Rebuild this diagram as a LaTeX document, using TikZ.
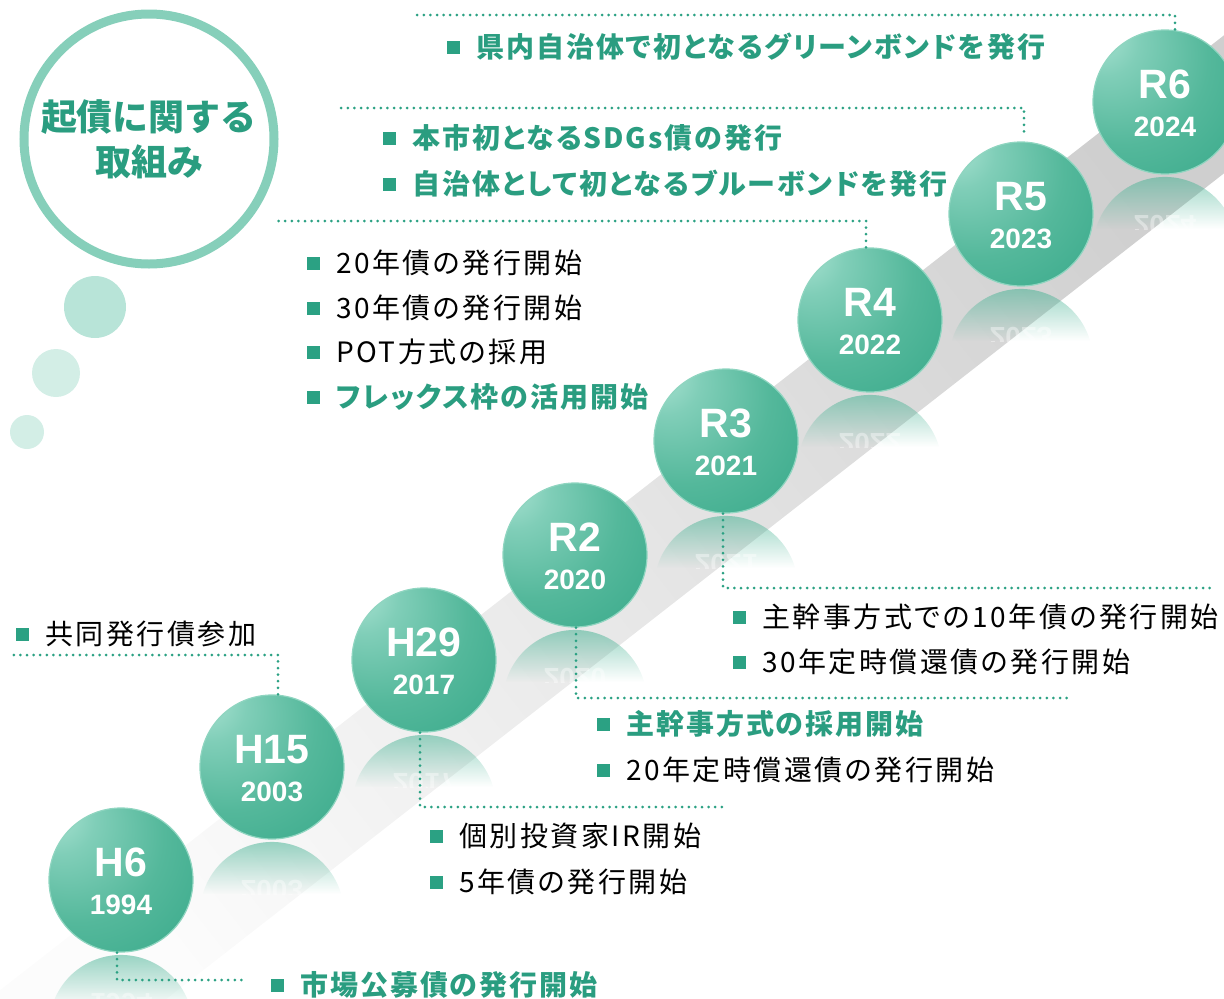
\documentclass[tikz,border=0pt]{standalone}
\usepackage{fontspec}
\usetikzlibrary{fadings}
\newfontfamily\jpfont{Noto Sans CJK JP}[LetterSpace=9,RawFeature=+palt]
\newfontfamily\jpgfont{Noto Sans CJK JP}[LetterSpace=7,RawFeature=+palt]
\newfontfamily\jptitlefont{Noto Sans CJK JP}
\newfontfamily\eraFont{Liberation Sans}
\definecolor{tealA}{HTML}{2BA183}
\definecolor{tealT}{HTML}{2A9D80}
\definecolor{ringC}{HTML}{86CFBA}
\definecolor{bubA}{HTML}{B8E4D8}
\definecolor{bubB}{HTML}{D3EEE6}
\definecolor{ballA}{HTML}{AEE5D5}
\definecolor{ballB}{HTML}{80CEB8}
\definecolor{ballC}{HTML}{54B89B}
\definecolor{ballD}{HTML}{38A98A}
\definecolor{ballE}{HTML}{2A9C7F}
\definecolor{ballRim}{HTML}{8FD5C0}
\definecolor{reflC}{HTML}{45B293}
\pgfdeclareradialshading{tealball}{\pgfpoint{-25bp}{25bp}}{color(0bp)=(ballA); color(12bp)=(ballB); color(30bp)=(ballC); color(50bp)=(ballD); color(75bp)=(ballE)}
\tikzfading[name=reflfade, top color=transparent!38, bottom color=transparent!100]
\tikzset{
  ball/.style={circle, minimum size=144pt, inner sep=0pt, shade, shading=tealball, draw=ballRim, line width=1.2pt},
  eratxt/.style={font=\eraFont\bfseries\fontsize{41}{41}\selectfont, text=white, inner sep=0pt, text height=29.4pt, text depth=0pt},
  yrtxt/.style={font=\eraFont\bfseries\fontsize{28}{28}\selectfont, text=white, inner sep=0pt, text height=20pt, text depth=0pt},
  dots/.style={draw=tealA, line width=3pt, line cap=round, dash pattern=on 0pt off 6.6pt},
  sq/.style={rectangle, fill=tealA, minimum size=13pt, inner sep=0pt},
  itemb/.style={anchor=west, inner sep=0pt, font=\jpfont\fontsize{28}{32}\selectfont, text=black, text height=23.2pt, text depth=2pt},
  itemg/.style={anchor=west, inner sep=0pt, font=\jpgfont\bfseries\fontsize{28}{32}\selectfont, text=tealT, text height=23.2pt, text depth=2pt},
  ttltxt/.style={inner sep=0pt, font=\jptitlefont\bfseries\fontsize{36}{40}\selectfont, text=tealT, text height=30pt, text depth=2.5pt}
}
\newcommand\yearball[5]{%
  \begin{scope}
    \clip (#2-74,#3+74) rectangle (#2+74,#3+127);
    \fill[reflC, path fading=reflfade] (#2-69.2,#3+127) arc[start angle=196.1, end angle=343.9, radius=72] -- cycle;
    \node[yrtxt, yscale=-1, opacity=0.4] (#1r) at (#2,#3+123) {#5};
  \end{scope}
  \node[ball] (#1) at (#2,#3) {};
  \node[eratxt] (#1e) at (#2,#3-18) {#4};
  \node[yrtxt] (#1y) at (#2,#3+24) {#5};
}
\newcommand\bitem[5]{%
  \node[sq] (#1s) at (#2,#3) {};
  \node[#4] (#1) at (#2+23,#3) {#5};
}
\begin{document}
\begin{tikzpicture}[x=1pt,y=-1pt]
\useasboundingbox (0,0) rectangle (1224,999);
\clip (0,0) rectangle (1224,999);
% diagonal band
\shade[top color=black!19, middle color=black!12, bottom color=black!1, shading angle=-52]
  (-60,1037) -- (1300,-24) -- (1300,114) -- (60,1082) -- cycle;
% title bubble
\node[circle, draw=ringC, line width=9pt, fill=white, minimum size=250pt, inner sep=0pt] (ttl) at (149,139) {};
\node[ttltxt] (ttl1) at (149,117) {起債に関する};
\node[ttltxt] (ttl2) at (149,162) {取組み};
\fill[bubA] (95,307) circle[radius=31];
\fill[bubB] (56,373) circle[radius=24];
\fill[bubB] (27,432) circle[radius=17];
% year balls
\yearball{c1}{121}{880}{H6}{1994}
\yearball{c2}{272}{767}{H15}{2003}
\yearball{c3}{424}{660}{H29}{2017}
\yearball{c4}{575}{555}{R2}{2020}
\yearball{c5}{726}{441}{R3}{2021}
\yearball{c6}{870}{320}{R4}{2022}
\yearball{c7}{1021}{214}{R5}{2023}
\yearball{c8}{1165}{102}{R6}{2024}
% connector ends
\coordinate (k1) at (247,980);
\coordinate (k2) at (8,655);
\coordinate (k3) at (725,807);
\coordinate (k4) at (1070,698);
\coordinate (k5) at (1215,588);
\coordinate (k6) at (277,221);
\coordinate (k7) at (335,108);
\coordinate (k8) at (416,15);
\draw[dots] ([xshift=-4pt]c1.south) |- (k1);
\draw[dots] ([xshift=6pt]c2.north) |- (k2);
\draw[dots] ([xshift=-4pt]c3.south) |- (k3);
\draw[dots] ([xshift=1pt]c4.south) |- (k4);
\draw[dots] ([xshift=-3pt]c5.south) |- (k5);
\draw[dots] ([xshift=-4pt]c6.north) |- (k6);
\draw[dots] ([xshift=3pt,yshift=10pt]c7.north) |- (k7);
\draw[dots] ([xshift=10pt]c8.north) |- (k8);
% items
\bitem{a1}{277}{985}{itemg}{市場公募債の発行開始}
\bitem{b1}{22}{634}{itemb}{共同発行債参加}
\bitem{d1}{436}{836}{itemb}{個別投資家IR開始}
\bitem{d2}{436}{882}{itemb}{5年債の発行開始}
\bitem{e1}{603}{724}{itemg}{主幹事方式の採用開始}
\bitem{e2}{603}{770}{itemb}{20年定時償還債の発行開始}
\bitem{f1}{739}{617}{itemb}{主幹事方式での10年債の発行開始}
\bitem{f2}{739}{662}{itemb}{30年定時償還債の発行開始}
\bitem{g1}{313}{263}{itemb}{20年債の発行開始}
\bitem{g2}{313}{308}{itemb}{30年債の発行開始}
\bitem{g3}{313}{352}{itemb}{POT方式の採用}
\bitem{g4}{313}{397}{itemg}{フレックス枠の活用開始}
\bitem{h1}{389}{138}{itemg}{本市初となるSDGs債の発行}
\bitem{h2}{389}{184}{itemg}{自治体として初となるブルーボンドを発行}
\bitem{i1}{453}{47}{itemg}{県内自治体で初となるグリーンボンドを発行}
\end{tikzpicture}
\end{document}
